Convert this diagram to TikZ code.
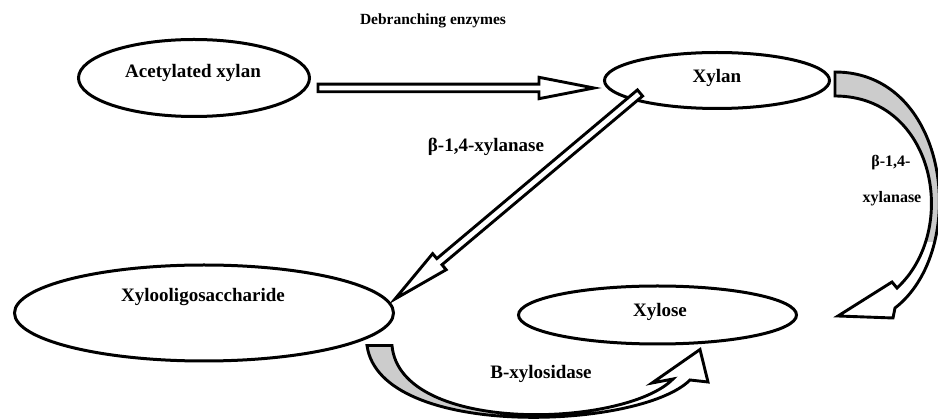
\documentclass[tikz,border=0pt]{standalone}
\usepackage{fontspec}
\setmainfont{Liberation Serif}
\usetikzlibrary{shapes.geometric,calc}
\definecolor{bandgray}{RGB}{204,204,204}
\tikzset{
  ell/.style={draw, ellipse, line width=3pt, inner sep=0pt, fill=white},
  lbl/.style={font=\fontsize{19}{22}\selectfont\bfseries, inner sep=0pt},
  slbl/.style={font=\fontsize{16}{19}\selectfont\bfseries, inner sep=0pt},
  blk/.style={draw, line width=2.9pt, fill=white, line join=miter, miter limit=30},
  bandline/.style={draw, line width=2.9pt, line join=miter, miter limit=30},
}
\newcommand{\blkarrow}[6]{%
  \coordinate (#1b) at ($(#3)!#5!(#2)$);
  \draw[blk] ($(#2)!#4!90:(#3)$) -- ($(#1b)!#4!-90:(#2)$) -- ($(#1b)!#6!-90:(#2)$)
    -- (#3) -- ($(#1b)!#6!90:(#2)$) -- ($(#1b)!#4!90:(#2)$) -- ($(#2)!#4!-90:(#3)$) -- cycle;
}
\begin{document}
\begin{tikzpicture}[x=1pt,y=-1pt]
\useasboundingbox (0,0) rectangle (938,419);

% ellipses
\node[ell, minimum width=231pt, minimum height=77pt] (acx) at (194,78) {};
\node[ell, minimum width=225pt, minimum height=56pt] (xyl) at (717,80.5) {};
\node[ell, minimum width=379pt, minimum height=96pt] (xos) at (204,313) {};
\node[ell, minimum width=278pt, minimum height=58pt] (xose) at (657.5,315) {};

% labels
\node[lbl] (tacx) at (193,73) {Acetylated xylan};
\node[lbl] (txyl) at (717,78) {Xylan};
\node[lbl] (txos) at (203,297) {Xylooligosaccharide};
\node[lbl] (txose) at (660,312) {Xylose};
\node[font=\fontsize{15.5}{18}\selectfont\bfseries, inner sep=0pt] (tdeb) at (433,21) {Debranching enzymes};
\node[lbl] (tb14) at (486,147) {β-1,4-xylanase};
\node[slbl] (tb14r) at (891,163) {β-1,4-};
\node[slbl] (txr) at (892,199) {xylanase};
\node[lbl] (tbx) at (541,374) {B-xylosidase};

% straight block arrows
\coordinate (a1t) at (318,88);
\coordinate (a1h) at (594,88);
\blkarrow{a1}{a1t}{a1h}{3.8pt}{55pt}{10.7pt}
\coordinate (a2t) at (640,93);
\coordinate (a2h) at (395,299);
\blkarrow{a2}{a2t}{a2h}{4pt}{58pt}{10.5pt}

% right curved arrow (Xylan -> Xylose)
\coordinate (r0) at (835,72);
\coordinate (r1) at (895,308);
\coordinate (r2) at (893,318);
\coordinate (r3) at (838,316);
\coordinate (r4) at (892,282);
\coordinate (r5) at (897,288);
\coordinate (r6) at (835,96);
\fill[white] (r0) .. controls (950,72) and (970,250) .. (r1) -- (r2) -- (r3) -- (r4) -- (r5) .. controls (960,230) and (935,96) .. (r6) -- cycle;
\begin{scope}
\clip (800,0) rectangle (938,242);
\fill[bandgray] (r0) .. controls (950,72) and (970,250) .. (r1) -- (r2) -- (r3) -- (r4) -- (r5) .. controls (960,230) and (935,96) .. (r6) -- cycle;
\end{scope}
\draw[bandline] (r0) .. controls (950,72) and (970,250) .. (r1) -- (r2) -- (r3) -- (r4) -- (r5) .. controls (960,230) and (935,96) .. (r6) -- cycle;

% bottom curved arrow (Xylooligosaccharide -> Xylose)
\coordinate (q0) at (367,345.5);
\coordinate (q1) at (690,380);
\coordinate (q2) at (708,382);
\coordinate (q3) at (700,349.5);
\coordinate (q4) at (652,383);
\coordinate (q5) at (673,379);
\coordinate (q6) at (392,345.5);
\fill[white] (q0) .. controls (380,440) and (640,430) .. (q1) -- (q2) -- (q3) -- (q4) -- (q5) .. controls (625,428) and (400,435) .. (q6) -- cycle;
\begin{scope}
\clip (340,330) rectangle (495,419);
\fill[bandgray] (q0) .. controls (380,440) and (640,430) .. (q1) -- (q2) -- (q3) -- (q4) -- (q5) .. controls (625,428) and (400,435) .. (q6) -- cycle;
\end{scope}
\draw[bandline] (q0) .. controls (380,440) and (640,430) .. (q1) -- (q2) -- (q3) -- (q4) -- (q5) .. controls (625,428) and (400,435) .. (q6) -- cycle;
\end{tikzpicture}
\end{document}
